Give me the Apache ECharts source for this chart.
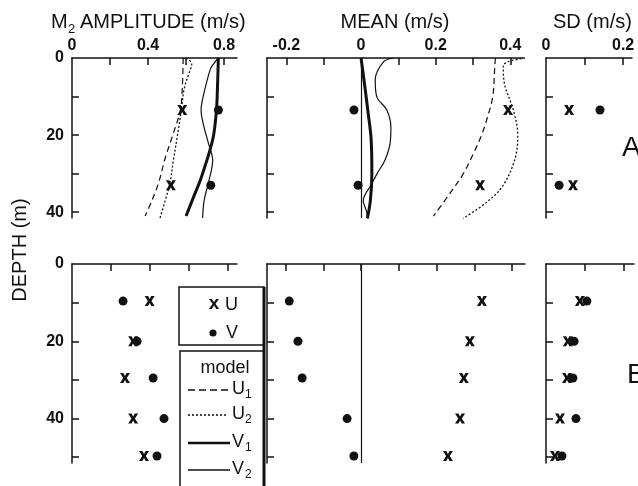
<!DOCTYPE html>
<html>
<head>
<meta charset="utf-8">
<style>
  html, body { margin: 0; padding: 0; background: #fff; }
  #chart { width: 638px; height: 486px; }
</style>
<script src="https://cdn.jsdelivr.net/npm/echarts@6/dist/echarts.min.js"></script>
</head>
<body>
<div id="chart"></div>
<script>
// ---- observations (depth in m, values in m/s) ----
const depthTop = [13.5, 33];
const ampUTop = [0.58, 0.52];
const ampVTop = [0.77, 0.73];
const meanUTop = [0.394, 0.319];
const meanVTop = [-0.019, -0.008];
const sdUTop = [0.06, 0.07];
const sdVTop = [0.14, 0.034];

const depthBot = [9.6, 20, 29.5, 40, 49.7];
const ampUBot = [0.40, 0.315, 0.273, 0.315, 0.371];
const ampVBot = [0.263, 0.335, 0.418, 0.474, 0.438];
const meanUBot = [0.32, 0.288, 0.272, 0.262, 0.23];
const meanVBot = [-0.19, -0.167, -0.156, -0.037, -0.019];
const sdUBot = [0.087, 0.056, 0.054, 0.036, 0.023];
const sdVBot = [0.105, 0.072, 0.069, 0.077, 0.041];

// ---- model profiles [value, depth] ----
const ampU1 = [[0.585,0],[0.58,8],[0.57,13.5],[0.53,20],[0.49,26],[0.455,32.5],[0.42,37],[0.385,41]];
const ampU2 = [[0.60,0],[0.63,1.5],[0.615,4],[0.59,8],[0.575,13.5],[0.555,20],[0.535,26],[0.515,32.5],[0.49,37],[0.463,41.5]];
const ampV1 = [[0.77,0],[0.765,8],[0.76,13.5],[0.745,20],[0.725,24],[0.70,28],[0.675,31.7],[0.64,36],[0.60,41]];
const ampV2 = [[0.77,0],[0.745,1.5],[0.727,3],[0.69,10],[0.679,13.5],[0.69,17],[0.717,22],[0.74,26.5],[0.717,32.5],[0.695,37],[0.687,41.5]];

const meanU1 = [[0.36,0],[0.358,3],[0.353,10],[0.34,15],[0.323,20],[0.30,25],[0.274,30],[0.239,35],[0.194,41]];
const meanU2 = [[0.44,0],[0.381,2],[0.384,6.5],[0.408,13.5],[0.42,20],[0.413,26],[0.381,33],[0.337,37.4],[0.274,41.6]];
const meanV1 = [[0,0],[0.009,6.5],[0.018,13.5],[0.027,21],[0.029,30],[0.025,37],[0.017,41.6]];
const meanV2 = [[0.086,0],[0.06,1],[0.038,5.7],[0.042,10],[0.069,13.5],[0.08,18],[0.078,22],[0.064,26.5],[0.043,30],[0.029,32.6],[0.006,37],[0.014,39.6],[0.018,41.6]];

// ---- tick positions and labels ----
const ampTicks = [0.2, 0.4, 0.6, 0.8];
const ampLabels = [0, 0.4, 0.8];
const meanTicks = [-0.2, -0.1, 0.1, 0.2, 0.3, 0.4];
const meanLabels = [-0.2, 0, 0.2, 0.4];
const sdTicks = [0.1, 0.2];
const sdLabels = [0, 0.2];
const depthTicksTop = [10, 20, 30, 40];
const depthTicksBot = [10, 20, 30, 40, 50];
const depthLabels = [0, 20, 40];

const INK = '#111';
const FONT = '"Liberation Sans", Arial, Helvetica, sans-serif';
const xPath = 'path://M0,0H3.4L5,3L6.6,0H10L6.8,5L10,10H6.6L5,7L3.4,10H0L3.2,5Z';

const zip = (xs, ys) => xs.map((v, i) => [v, ys[i]]);

const grids = [
  { left: 72,  top: 58,  width: 165, height: 160 },
  { left: 267, top: 58,  width: 256, height: 160 },
  { left: 546, top: 58,  width: 86,  height: 160 },
  { left: 72,  top: 264, width: 165, height: 199 },
  { left: 267, top: 264, width: 258, height: 199 },
  { left: 546, top: 264, width: 88,  height: 199 }
];

function xAxisCfg(gi, min, max, ticks, labels) {
  return {
    type: 'value', gridIndex: gi, position: 'top', min, max,
    splitLine: { show: false },
    axisLine: { show: true, onZero: false, lineStyle: { color: INK, width: 1.5 } },
    axisTick: { show: true, inside: true, length: 7, customValues: ticks, lineStyle: { color: INK, width: 1.5 } },
    axisLabel: labels ? { show: true, customValues: labels, margin: 4, color: INK,
      fontSize: 16, fontWeight: 'bold', fontFamily: FONT } : { show: false }
  };
}
function yAxisCfg(gi, max, ticks, labels) {
  return {
    type: 'value', gridIndex: gi, inverse: true, min: 0, max,
    splitLine: { show: false },
    axisLine: { show: true, onZero: false, lineStyle: { color: INK, width: 1.5 } },
    axisTick: { show: true, inside: true, length: 7, customValues: ticks, lineStyle: { color: INK, width: 1.5 } },
    axisLabel: labels ? { show: true, customValues: labels, margin: 8, color: INK,
      fontSize: 16, fontWeight: 'bold', fontFamily: FONT } : { show: false }
  };
}

const xAxes = [
  xAxisCfg(0, 0, 0.868, ampTicks, ampLabels),
  xAxisCfg(1, -0.252, 0.434, meanTicks, meanLabels),
  xAxisCfg(2, 0, 0.223, sdTicks, sdLabels),
  xAxisCfg(3, 0, 0.85, ampTicks, null),
  xAxisCfg(4, -0.249, 0.434, meanTicks.concat([0]), null),
  xAxisCfg(5, 0, 0.226, sdTicks, null)
];
const yAxes = [
  yAxisCfg(0, 41.5, depthTicksTop, depthLabels),
  yAxisCfg(1, 41.5, depthTicksTop, null),
  yAxisCfg(2, 41.5, depthTicksTop, null),
  yAxisCfg(3, 51.5, depthTicksBot, depthLabels),
  yAxisCfg(4, 51.5, depthTicksBot, null),
  yAxisCfg(5, 51.5, depthTicksBot, null)
];

function uPoints(gi, xs, ys) {
  return { type: 'scatter', xAxisIndex: gi, yAxisIndex: gi, data: zip(xs, ys),
    symbol: xPath, symbolSize: [10, 10], itemStyle: { color: INK, opacity: 1 }, z: 5, silent: true };
}
function vPoints(gi, xs, ys) {
  return { type: 'scatter', xAxisIndex: gi, yAxisIndex: gi, data: zip(xs, ys),
    symbol: 'circle', symbolSize: 9, itemStyle: { color: INK, opacity: 1 }, z: 5, silent: true };
}
function profile(gi, data, width, dash) {
  return { type: 'line', xAxisIndex: gi, yAxisIndex: gi, data, symbol: 'none', smooth: 0.35,
    clip: false, silent: true, z: 3,
    lineStyle: { color: INK, width, type: dash || 'solid' } };
}
function zeroLine(gi) {
  return { type: 'line', xAxisIndex: gi, yAxisIndex: gi, data: [], silent: true,
    markLine: { silent: true, symbol: 'none', label: { show: false },
      lineStyle: { color: INK, width: 1.2, type: 'solid' }, data: [{ xAxis: 0 }] } };
}

const series = [
  profile(0, ampU1, 1.2, [6, 4]),
  profile(0, ampU2, 1.3, [2, 2]),
  profile(0, ampV1, 3),
  profile(0, ampV2, 1.2),
  uPoints(0, ampUTop, depthTop),
  vPoints(0, ampVTop, depthTop),

  zeroLine(1),
  profile(1, meanU1, 1.2, [6, 4]),
  profile(1, meanU2, 1.3, [2, 2]),
  profile(1, meanV1, 3),
  profile(1, meanV2, 1.2),
  uPoints(1, meanUTop, depthTop),
  vPoints(1, meanVTop, depthTop),

  uPoints(2, sdUTop, depthTop),
  vPoints(2, sdVTop, depthTop),

  uPoints(3, ampUBot, depthBot),
  vPoints(3, ampVBot, depthBot),

  zeroLine(4),
  uPoints(4, meanUBot, depthBot),
  vPoints(4, meanVBot, depthBot),

  uPoints(5, sdUBot, depthBot),
  vPoints(5, sdVBot, depthBot)
];

function txt(text, x, y, size, opts) {
  opts = opts || {};
  return { type: 'text', x, y, rotation: opts.rotation || 0, silent: true, z: 20,
    style: { text, fill: INK, font: (opts.weight || 'normal') + ' ' + size + 'px ' + FONT,
      textAlign: opts.align || 'left', textVerticalAlign: 'middle' } };
}
function seg(x1, y1, x2, y2, width, dash) {
  return { type: 'line', silent: true, z: 20,
    shape: { x1, y1, x2, y2 },
    style: { stroke: INK, lineWidth: width, lineDash: dash || null } };
}

const graphics = [
  // panel headings
  txt('M', 51, 22, 20),
  txt('2', 68, 29, 13),
  txt('AMPLITUDE (m/s)', 80, 22, 20),
  txt('MEAN (m/s)', 395, 22, 20, { align: 'center' }),
  txt('SD (m/s)', 553, 22, 20),
  txt('DEPTH (m)', 20, 250, 20, { align: 'center', rotation: Math.PI / 2 }),
  txt('A', 622, 148, 28),
  txt('B', 627, 375, 28),

  // key: observations
  { type: 'rect', silent: true, z: 19, shape: { x: 179, y: 287, width: 85, height: 58 },
    style: { fill: '#fff', stroke: INK, lineWidth: 1.5 } },
  txt('x', 214, 304, 19, { weight: 'bold', align: 'center' }),
  txt('U', 225, 305, 18),
  { type: 'circle', silent: true, z: 20, shape: { cx: 213, cy: 333, r: 3.6 },
    style: { fill: INK } },
  txt('V', 226, 333, 18),

  // key: model profiles
  { type: 'rect', silent: true, z: 19, shape: { x: 180, y: 351, width: 84, height: 150 },
    style: { fill: '#fff', stroke: INK, lineWidth: 1.5 } },
  seg(264, 287, 264, 486, 3),
  txt('model', 225, 368, 18, { align: 'center' }),
  seg(188, 390, 228, 390, 1.3, [7, 4]),
  txt('U', 232, 389, 18),
  txt('1', 245, 395, 12),
  seg(188, 415, 228, 415, 1.3, [2, 2]),
  txt('U', 232, 414, 18),
  txt('2', 245, 420, 12),
  seg(188, 443, 230, 443, 2.6),
  txt('V', 232, 442, 18),
  txt('1', 245, 448, 12),
  seg(188, 470, 230, 470, 1.6),
  txt('V', 232, 469, 18),
  txt('2', 245, 475, 12)
];

const chart = echarts.init(document.getElementById('chart'), null, { renderer: 'canvas' });
chart.setOption({
  animation: false,
  backgroundColor: '#fff',
  grid: grids,
  xAxis: xAxes,
  yAxis: yAxes,
  series,
  graphic: graphics
});
</script>
</body>
</html>
